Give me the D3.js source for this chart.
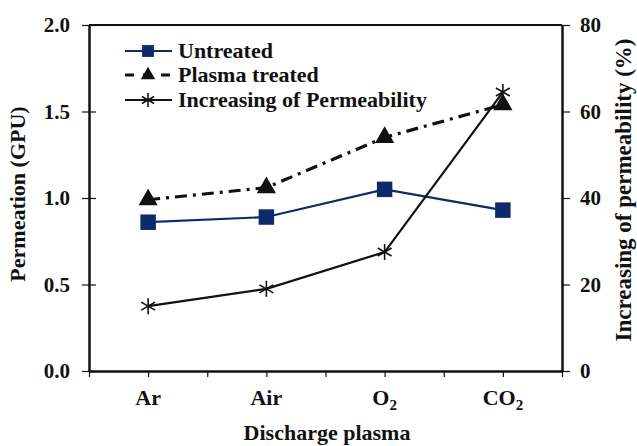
<!DOCTYPE html>
<html><head><meta charset="utf-8">
<script src="https://cdn.jsdelivr.net/npm/d3@7"></script>
<style>body{margin:0;background:#fff}svg{display:block}text{font-family:"Liberation Serif","Times New Roman",serif;font-weight:bold;fill:#111}</style>
</head><body><svg id="c" width="637" height="446"></svg>
<script>
const categories = ["Ar","Air","O2","CO2"];
const untreated = [0.86, 0.89, 1.05, 0.93];
const plasmaTreated = [0.99, 1.06, 1.35, 1.54];
const increasing = [15.0, 19.0, 27.5, 64.5];
const leftTicks = [0, 0.5, 1.0, 1.5, 2.0];
const rightTicks = [0, 20, 40, 60, 80];

const svg = d3.select("#c");
const L=89,R=562,T=25,B=371;
const x = d3.scaleLinear().domain([0.5,4.5]).range([L,R]);
const yL = d3.scaleLinear().domain([0,2]).range([B,T]);
const yR = d3.scaleLinear().domain([0,80]).range([B,T]);
const navy="#0d2a6b";

// frame
svg.append("line").attr("x1",L).attr("x2",R).attr("y1",T).attr("y2",T).attr("stroke","#111").attr("stroke-width",2);

// left axis
const gl = svg.append("g").attr("transform",`translate(${L},0)`)
  .call(d3.axisLeft(yL).tickValues(leftTicks).tickFormat(d3.format(".1f")).tickSizeInner(7).tickSizeOuter(0).tickPadding(12));
gl.selectAll(".tick line").clone().attr("x2",7);
// right axis
const gr = svg.append("g").attr("transform",`translate(${R},0)`)
  .call(d3.axisRight(yR).tickValues(rightTicks).tickFormat(d3.format("d")).tickSizeInner(8).tickSizeOuter(0).tickPadding(10));
// bottom axis
const gb = svg.append("g").attr("transform",`translate(0,${B})`)
  .call(d3.axisBottom(x).tickValues(d3.range(0.5,4.51,0.5)).tickFormat("").tickSizeInner(6).tickSizeOuter(0));
[gl,gr,gb].forEach(g=>{
  g.select(".domain").attr("stroke","#111").attr("stroke-width",2.5);
  g.selectAll(".tick line").attr("stroke","#111").attr("stroke-width",1.2);
  g.selectAll(".tick text").style("font-size","21px").attr("fill","#111");
});

// category labels with subscripts
categories.forEach((c,i)=>{
  const t = svg.append("text").attr("x",x(i+1)).attr("y",405).attr("text-anchor","middle").style("font-size","22px");
  const m = c.match(/^([A-Za-z]+?)(\d*)$/);
  t.append("tspan").text(m[1]);
  if(m[2]) t.append("tspan").attr("dy",5).style("font-size","15px").text(m[2]);
});

// axis titles
svg.append("text").attr("transform",`translate(25,194) rotate(-90)`).attr("text-anchor","middle").style("font-size","22px").text("Permeation (GPU)");
svg.append("text").attr("transform",`translate(631,190) rotate(-90)`).attr("text-anchor","middle").style("font-size","23px").text("Increasing of permeability (%)");
svg.append("text").attr("x",327).attr("y",440).attr("text-anchor","middle").style("font-size","22px").text("Discharge plasma");

const line = (ys)=>d3.line().x((d,i)=>x(i+1)).y(d=>ys(d));
const dash = "12,6,3,6";
// plasma treated
svg.append("path").datum(plasmaTreated).attr("d",line(yL)).attr("fill","none").attr("stroke","#111").attr("stroke-width",3.2).attr("stroke-dasharray",dash);
// untreated
svg.append("path").datum(untreated).attr("d",line(yL)).attr("fill","none").attr("stroke",navy).attr("stroke-width",2.2);
// increasing
svg.append("path").datum(increasing).attr("d",line(yR)).attr("fill","none").attr("stroke","#111").attr("stroke-width",2.2);

const sq = d3.symbol().type(d3.symbolSquare).size(240);
const tri = d3.symbol().type(d3.symbolTriangle).size(160);
function star(g,cx,cy,r){
  const a=[[0,-r,0,r],[-r*0.87,-r*0.5,r*0.87,r*0.5],[-r*0.87,r*0.5,r*0.87,-r*0.5]];
  a.forEach(s=>g.append("line").attr("x1",cx+s[0]).attr("y1",cy+s[1]).attr("x2",cx+s[2]).attr("y2",cy+s[3]).attr("stroke","#111").attr("stroke-width",1.6));
}
untreated.forEach((d,i)=>svg.append("path").attr("d",sq).attr("transform",`translate(${x(i+1)},${yL(d)})`).attr("fill",navy));
plasmaTreated.forEach((d,i)=>svg.append("path").attr("d",tri).attr("transform",`translate(${x(i+1)},${yL(d)})`).attr("fill","#111"));
increasing.forEach((d,i)=>star(svg,x(i+1),yR(d),8));

// legend
const lg = svg.append("g");
const items = [
  {y:51,label:"Untreated",kind:"sq"},
  {y:75,label:"Plasma treated",kind:"tri"},
  {y:100,label:"Increasing of Permeability",kind:"star"}];
items.forEach(it=>{
  const l = lg.append("line").attr("x1",125).attr("x2",172).attr("y1",it.y).attr("y2",it.y);
  if(it.kind==="sq"){l.attr("stroke",navy).attr("stroke-width",2.2);lg.append("path").attr("d",d3.symbol().type(d3.symbolSquare).size(140)).attr("transform",`translate(148,${it.y})`).attr("fill",navy);}
  if(it.kind==="tri"){l.attr("stroke","#111").attr("stroke-width",3.2).attr("stroke-dasharray","9,9,9,9");lg.append("path").attr("d",d3.symbol().type(d3.symbolTriangle).size(90)).attr("transform",`translate(148,${it.y})`).attr("fill","#111");}
  if(it.kind==="star"){l.attr("stroke","#111").attr("stroke-width",2.2);star(lg,148,it.y,7);}
  lg.append("text").attr("x",178).attr("y",it.y+7).style("font-size","22px").text(it.label);
});
</script></body></html>
